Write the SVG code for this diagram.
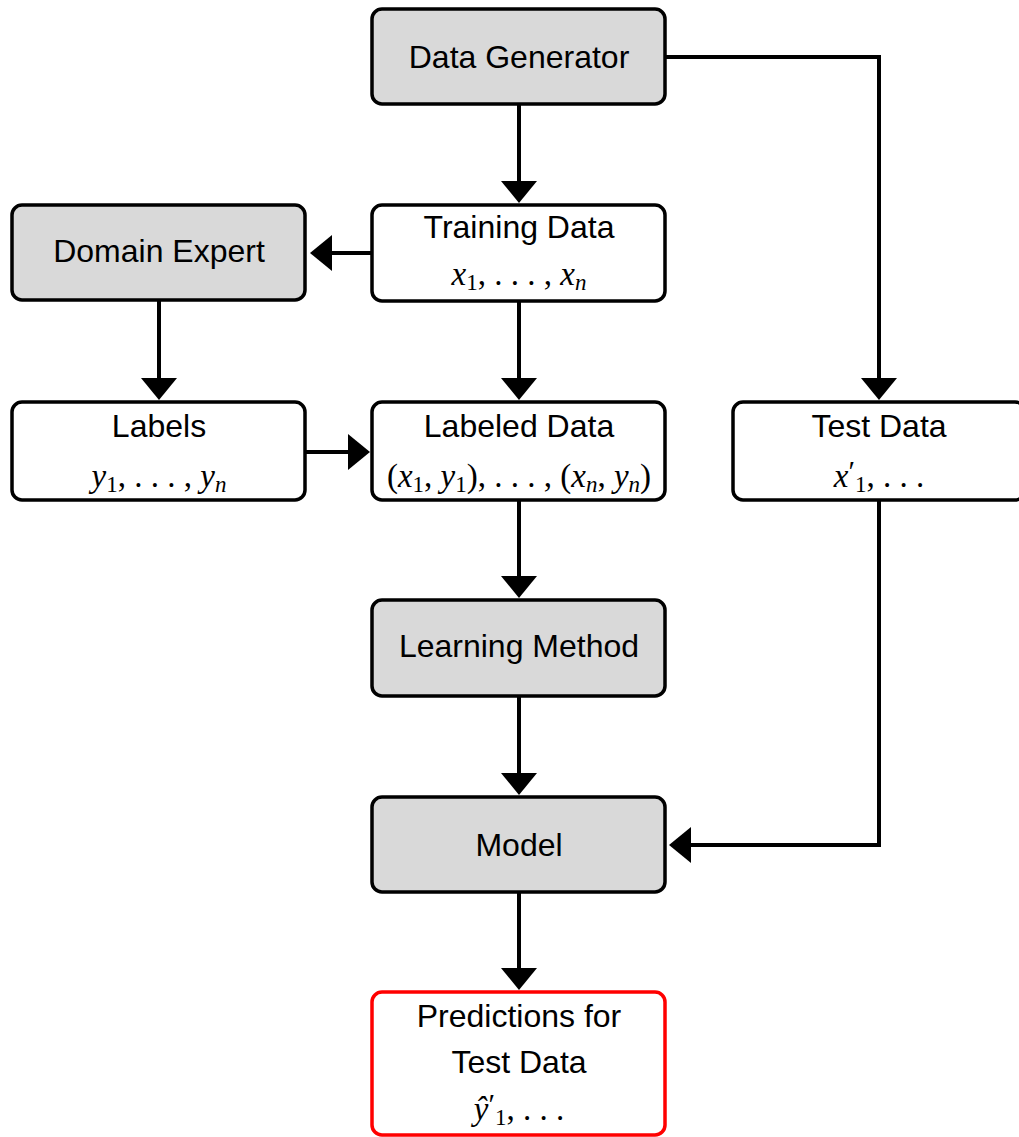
<svg xmlns="http://www.w3.org/2000/svg" width="1019" height="1137" viewBox="0 0 1019 1137">
  <defs>
    <style>
      .box { stroke: #000; stroke-width: 3.5; }
      .gray { fill: #d9d9d9; }
      .white { fill: #fff; }
      .red { stroke: #ff0000; }
      .lbl { font-family: "Liberation Sans", Arial, sans-serif; font-size: 32px; text-anchor: middle; fill: #000; }
      .math { font-family: "Liberation Serif", "Times New Roman", serif; font-size: 33px; text-anchor: middle; fill: #000; }
      .it { font-style: italic; }
      .sub { font-size: 23px; }
      .prime { font-size: 30px; }
      .conn { fill: none; stroke: #000; stroke-width: 4; marker-end: url(#head); }
    </style>
    <marker id="head" markerUnits="userSpaceOnUse" markerWidth="22" markerHeight="36" refX="12" refY="18" orient="auto" viewBox="0 0 22 36">
      <path d="M0,0 L22,18 L0,36 Z" fill="#000"/>
    </marker>
  </defs>

  <!-- connectors -->
  <g id="connectors">
    <path class="conn" d="M519,104 V193"/>
    <path class="conn" d="M372,253 H320"/>
    <path class="conn" d="M159,300 V390"/>
    <path class="conn" d="M519,301 V390"/>
    <path class="conn" d="M305,452 H360"/>
    <path class="conn" d="M665,57 H879 V390"/>
    <path class="conn" d="M519,500 V588"/>
    <path class="conn" d="M519,696 V785"/>
    <path class="conn" d="M879,500 V845 H679"/>
    <path class="conn" d="M519,892 V980"/>
  </g>

  <g id="data-generator">
    <rect class="box gray" x="372" y="9" width="293" height="95" rx="10"/>
    <text class="lbl" x="519" y="68">Data Generator</text>
  </g>

  <g id="training-data">
    <rect class="box white" x="372" y="205" width="293" height="96" rx="10"/>
    <text class="lbl" x="519" y="238">Training Data</text>
    <text class="math" x="519" y="285"><tspan class="it">x</tspan><tspan class="sub" dy="5">1</tspan><tspan dy="-5">, . . . , </tspan><tspan class="it">x</tspan><tspan class="sub it" dy="5">n</tspan></text>
  </g>

  <g id="domain-expert">
    <rect class="box gray" x="12" y="205" width="293" height="95" rx="10"/>
    <text class="lbl" x="159" y="262">Domain Expert</text>
  </g>

  <g id="labels">
    <rect class="box white" x="12" y="402" width="293" height="98" rx="10"/>
    <text class="lbl" x="159" y="437">Labels</text>
    <text class="math" x="159" y="487"><tspan class="it">y</tspan><tspan class="sub" dy="5">1</tspan><tspan dy="-5">, . . . , </tspan><tspan class="it">y</tspan><tspan class="sub it" dy="5">n</tspan></text>
  </g>

  <g id="labeled-data">
    <rect class="box white" x="372" y="402" width="293" height="98" rx="10"/>
    <text class="lbl" x="519" y="437">Labeled Data</text>
    <text class="math" x="519" y="487">(<tspan class="it">x</tspan><tspan class="sub" dy="5">1</tspan><tspan dy="-5">, </tspan><tspan class="it">y</tspan><tspan class="sub" dy="5">1</tspan><tspan dy="-5">), . . . , (</tspan><tspan class="it">x</tspan><tspan class="sub it" dy="5">n</tspan><tspan dy="-5">, </tspan><tspan class="it">y</tspan><tspan class="sub it" dy="5">n</tspan><tspan dy="-5">)</tspan></text>
  </g>

  <g id="test-data">
    <rect class="box white" x="733" y="402" width="292" height="98" rx="10"/>
    <text class="lbl" x="879" y="437">Test Data</text>
    <text class="math" x="879" y="487"><tspan class="it">x</tspan><tspan class="prime" dy="-6">′</tspan><tspan class="sub" dy="11">1</tspan><tspan dy="-5">, . . .</tspan></text>
  </g>

  <g id="learning-method">
    <rect class="box gray" x="372" y="600" width="293" height="96" rx="10"/>
    <text class="lbl" x="519" y="657">Learning Method</text>
  </g>

  <g id="model">
    <rect class="box gray" x="372" y="797" width="293" height="95" rx="10"/>
    <text class="lbl" x="519" y="856">Model</text>
  </g>

  <g id="predictions">
    <rect class="box white red" x="372" y="992" width="293" height="143" rx="10"/>
    <text class="lbl" x="519" y="1027">Predictions for</text>
    <text class="lbl" x="519" y="1073">Test Data</text>
    <text class="math" x="519" y="1120"><tspan class="it">ŷ</tspan><tspan class="prime" dy="-6">′</tspan><tspan class="sub" dy="11">1</tspan><tspan dy="-5">, . . .</tspan></text>
  </g>
</svg>
